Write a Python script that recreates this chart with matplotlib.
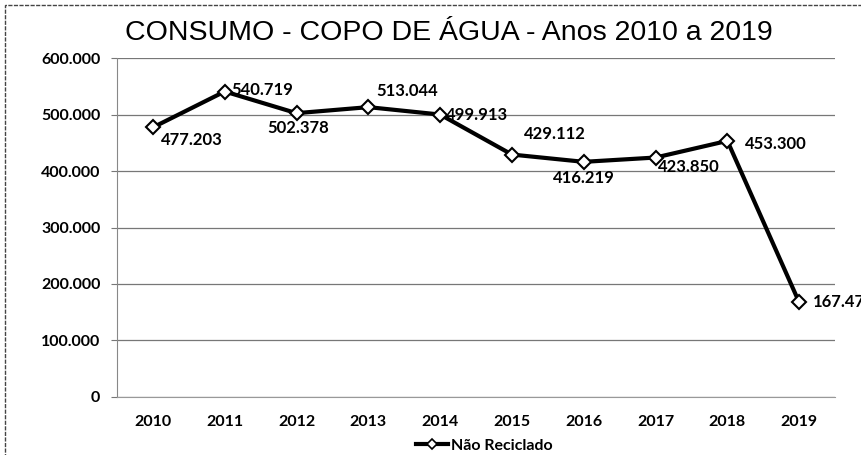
import matplotlib
matplotlib.use("Agg")
import matplotlib.pyplot as plt
from matplotlib.patches import Rectangle
from matplotlib.lines import Line2D
from matplotlib.ticker import FuncFormatter

years = ["2010", "2011", "2012", "2013", "2014", "2015", "2016", "2017", "2018", "2019"]
values = [477203, 540719, 502378, 513044, 499913, 429112, 416219, 423850, 453300, 167470]
series_name = "Não Reciclado"
title = "CONSUMO - COPO DE ÁGUA - Anos 2010 a 2019"

# label offsets in points (dx, dy, ha, va)
label_pos = [(6, -3, "left", "top"), (5, 1, "left", "center"), (1, -5, "center", "top"),
             (6, 6, "left", "bottom"), (4, 0, "left", "center"), (9, 9, "left", "bottom"),
             (0, -6, "center", "top"), (2, -1, "left", "top"), (13, -2, "left", "center"),
             (10, 0, "left", "center")]

def fmt(v):
    return f"{v:,.0f}".replace(",", ".")

fig = plt.figure(figsize=(8.61, 4.55), dpi=100)
ax = fig.add_axes([0.1359, 0.1275, 0.834, 0.745])
x = list(range(len(years)))
ax.plot(x, values, color="black", lw=3, marker="D", ms=7, mfc="white", mec="black",
        mew=1.5, zorder=3)
for i, v in enumerate(values):
    dx, dy, ha, va = label_pos[i]
    ax.annotate(fmt(v), (i, v), xytext=(dx, dy), textcoords="offset points",
                ha=ha, va=va, fontsize=12, fontweight="bold", family="Lato",
                annotation_clip=False, zorder=4)

ax.set_xlim(-0.5, len(years) - 0.5)
ax.set_ylim(0, 600000)
ax.set_yticks(range(0, 600001, 100000))
ax.yaxis.set_major_formatter(FuncFormatter(lambda v, p: fmt(v)))
ax.set_xticks(x)
ax.set_xticklabels(years)
for lab in ax.get_xticklabels() + ax.get_yticklabels():
    lab.set_fontweight("bold")
    lab.set_fontsize(11.5)
    lab.set_family("Lato")
ax.tick_params(axis="x", length=0, pad=13)
ax.tick_params(axis="y", length=4, width=0.8, color="#777777", pad=8)
ax.grid(axis="y", color="#777777", lw=0.9)
ax.set_axisbelow(True)
for s in ["top", "right"]:
    ax.spines[s].set_visible(False)
ax.spines["left"].set_color("#888888")
ax.spines["left"].set_linestyle((0, (2, 1)))
ax.spines["bottom"].set_color("#999999")
ax.spines["bottom"].set_linewidth(0.8)

fig.text(0.521, 0.928, title, ha="center", va="center", fontsize=20.5,
         family="Liberation Sans")

handle = Line2D([], [], color="black", lw=3, marker="D", ms=5, mfc="white",
                mec="black", mew=1.2)
fig.legend([handle], [series_name], loc="center", bbox_to_anchor=(0.563, 0.02),
           frameon=False, prop={"family": "Lato", "weight": "bold", "size": 11.5},
           handlelength=2.0, handletextpad=0.2, borderpad=0)

fig.add_artist(Rectangle((0.006, -0.05), 1.2, 1.04, transform=fig.transFigure,
                         fill=False, ec="#444444", lw=1.0, ls=(0, (3, 1))))

fig.savefig("out.png", dpi=100)
